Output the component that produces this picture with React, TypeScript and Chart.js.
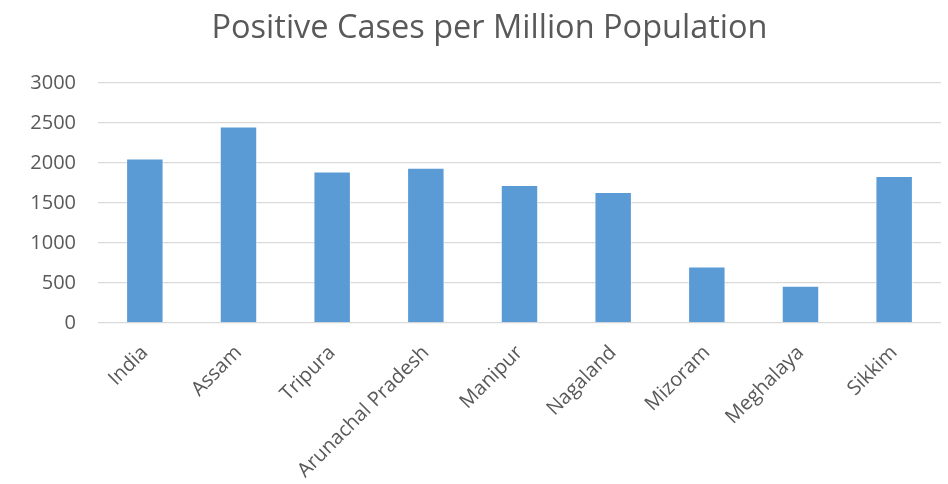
import React, { useEffect, useRef } from "react";
import { Chart, registerables } from "chart.js";

Chart.register(...registerables);

const categories = ["India", "Assam", "Tripura", "Arunachal Pradesh", "Manipur", "Nagaland", "Mizoram", "Meghalaya", "Sikkim"];
const casesPerMillion = [2055, 2457, 1894, 1940, 1725, 1638, 707, 467, 1836];
const yTicks = [0, 500, 1000, 1500, 2000, 2500, 3000];

const FONT = "'Open Sans', 'Noto Sans', sans-serif";

const shiftTitle = {
  id: "shiftTitle",
  afterLayout(chart: any) {
    const t = chart.titleBlock;
    if (t) {
      t.left += 19;
      t.right += 19;
    }
  },
};

export default function App() {
  const ref = useRef<HTMLCanvasElement>(null);
  useEffect(() => {
    document.body.style.margin = "0";
    const chart = new Chart(ref.current!, {
      type: "bar",
      data: {
        labels: categories,
        datasets: [
          {
            data: casesPerMillion,
            backgroundColor: "#5b9bd5",
            borderColor: "rgba(255,255,255,0.6)",
            borderWidth: 1,
            barPercentage: 0.4,
            categoryPercentage: 1,
          },
        ],
      },
      plugins: [shiftTitle],
      options: {
        animation: false,
        responsive: false,
        layout: { padding: { top: 2, right: 7, left: 0, bottom: 0 } },
        plugins: {
          legend: { display: false },
          tooltip: { enabled: false },
          title: {
            display: true,
            text: "Positive Cases per Million Population",
            color: "#595959",
            font: { family: FONT, size: 32.5, weight: "normal" },
            padding: { top: 7, bottom: 35 },
          },
        },
        scales: {
          x: {
            grid: { display: false },
            border: { display: false },
            ticks: {
              color: "#595959",
              font: { family: FONT, size: 20 },
              maxRotation: 45,
              minRotation: 45,
              padding: 10,
            },
            afterFit: (s: any) => {
              s.height = 161;
            },
          },
          y: {
            min: 0,
            max: 3000,
            afterBuildTicks: (s: any) => {
              s.ticks = yTicks.map((v) => ({ value: v }));
            },
            grid: { color: "#d9d9d9", lineWidth: 1.3, drawTicks: false },
            border: { display: false },
            ticks: {
              color: "#595959",
              font: { family: FONT, size: 20 },
              padding: 22,
              callback: (v: any) => String(v),
            },
            afterFit: (s: any) => {
              s.width = 98;
            },
          },
        },
      },
    });
    return () => chart.destroy();
  }, []);
  return (
    <div style={{ width: 948, height: 484 }}>
      <canvas ref={ref} width={948} height={484} style={{ width: 948, height: 484 }} />
    </div>
  );
}
